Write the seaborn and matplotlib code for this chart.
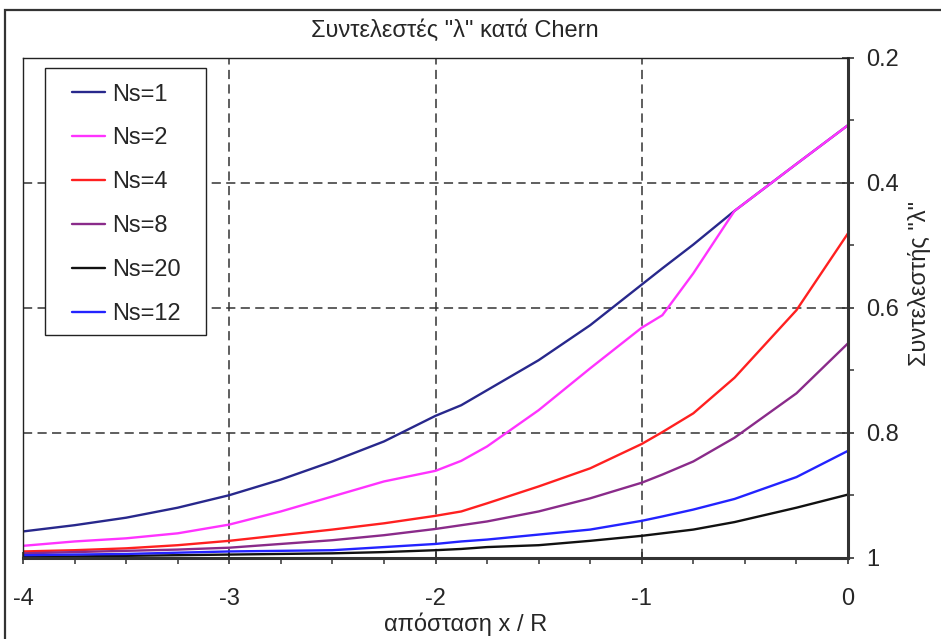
import matplotlib
matplotlib.use("Agg")
import matplotlib.pyplot as plt
from matplotlib.patches import Rectangle
from matplotlib.ticker import MultipleLocator, FuncFormatter
import seaborn as sns
import pandas as pd

# Distance from the edge (x / R) and Chern coefficients per number of storeys
x_dist = [-4, -3.75, -3.5, -3.25, -3, -2.75, -2.5, -2.25, -2, -1.875,
          -1.75, -1.5, -1.25, -1, -0.9, -0.75, -0.55, -0.25, 0]

ns1 = [0.958, 0.948, 0.936, 0.920, 0.900, 0.875, 0.846, 0.814, 0.773, 0.756,
       0.732, 0.684, 0.628, 0.563, 0.537, 0.499, 0.445, 0.370, 0.308]
ns2 = [0.981, 0.974, 0.969, 0.961, 0.947, 0.926, 0.902, 0.878, 0.861, 0.845,
       0.822, 0.764, 0.697, 0.632, 0.612, 0.545, 0.445, 0.370, 0.308]
ns4 = [0.990, 0.988, 0.985, 0.980, 0.973, 0.964, 0.955, 0.945, 0.933, 0.926,
       0.913, 0.886, 0.857, 0.818, 0.799, 0.769, 0.712, 0.604, 0.481]
ns8 = [0.993, 0.991, 0.989, 0.987, 0.984, 0.978, 0.972, 0.964, 0.954, 0.948,
       0.942, 0.926, 0.905, 0.880, 0.867, 0.846, 0.808, 0.737, 0.657]
ns20 = [0.998, 0.998, 0.997, 0.996, 0.995, 0.994, 0.993, 0.991, 0.988, 0.986,
        0.983, 0.980, 0.973, 0.965, 0.961, 0.955, 0.943, 0.920, 0.899]
ns12 = [0.996, 0.995, 0.994, 0.992, 0.990, 0.989, 0.988, 0.983, 0.978, 0.974,
        0.971, 0.963, 0.955, 0.941, 0.934, 0.923, 0.906, 0.871, 0.829]

series_names = ["Ns=1", "Ns=2", "Ns=4", "Ns=8", "Ns=20", "Ns=12"]
series_values = [ns1, ns2, ns4, ns8, ns20, ns12]
series_colors = ["#28288C", "#FF33FF", "#FF2020", "#8A2B8A", "#111111", "#2323FF"]

title_text = 'Συντελεστές "λ" κατά Chern'
xlabel_text = "απόσταση x / R"
ylabel_text = 'Συντελεστής "λ"'

rows = []
for name, vals in zip(series_names, series_values):
    for xv, yv in zip(x_dist, vals):
        rows.append({"x": xv, "lam": yv, "series": name})
df = pd.DataFrame(rows)

sns.set_style("white")
plt.rcParams["font.family"] = ["Liberation Sans", "DejaVu Sans"]
plt.rcParams["axes.unicode_minus"] = False

W, H = 941, 639
fig = plt.figure(figsize=(W / 100, H / 100), dpi=100)
ax_l, ax_r, ax_t, ax_b = 23, 848, 57.7, 557.7
ax = fig.add_axes([ax_l / W, 1 - ax_b / H, (ax_r - ax_l) / W, (ax_b - ax_t) / H])

sns.lineplot(data=df, x="x", y="lam", hue="series", hue_order=series_names,
             palette=dict(zip(series_names, series_colors)), estimator=None,
             linewidth=1.7, ax=ax, legend=True)

ax.set_xlim(-4, 0)
ax.set_ylim(1.0, 0.2)

ax.xaxis.set_major_locator(MultipleLocator(1))
ax.xaxis.set_minor_locator(MultipleLocator(0.25))
ax.yaxis.set_major_locator(MultipleLocator(0.2))
ax.yaxis.set_minor_locator(MultipleLocator(0.1))
ax.yaxis.set_major_formatter(FuncFormatter(lambda v, p: f"{v:g}"))
ax.xaxis.set_major_formatter(FuncFormatter(lambda v, p: f"{v:g}"))

ax.yaxis.tick_right()
ax.yaxis.set_label_position("right")
ax.tick_params(axis="x", which="major", direction="inout", length=8, width=1.2,
               pad=18, labelsize=17, color="#333333", bottom=True, top=False)
ax.tick_params(axis="x", which="minor", direction="out", length=4, width=1.1,
               color="#333333", bottom=True, top=False)
ax.tick_params(axis="y", which="major", direction="inout", length=8, width=1.2,
               pad=9, labelsize=17, color="#333333", right=True, left=False)
ax.tick_params(axis="y", which="minor", direction="out", length=4, width=1.1,
               color="#333333", right=True, left=False)

ax.grid(True, which="major", color="#333333", linewidth=1.1,
        linestyle=(0, (6, 3.5)))
ax.set_axisbelow(True)

for side in ("bottom", "right"):
    ax.spines[side].set_linewidth(2.2)
    ax.spines[side].set_color("#333333")
for side in ("left", "top"):
    ax.spines[side].set_linewidth(1.0)
    ax.spines[side].set_color("#222222")

ax.set_xlabel(xlabel_text, fontsize=17, va="center")
ax.xaxis.set_label_coords((466 - ax_l) / (ax_r - ax_l), (ax_b - 624) / (ax_b - ax_t))
ax.set_ylabel(ylabel_text, fontsize=17, rotation=90, va="center", ha="center")
ax.yaxis.set_label_coords((920 - ax_l) / (ax_r - ax_l), (ax_b - 283) / (ax_b - ax_t))

# Legend: white framed box with the entries inside
box = Rectangle(((45 - ax_l) / (ax_r - ax_l), (ax_b - 335) / (ax_b - ax_t)),
                (206 - 45) / (ax_r - ax_l), (335 - 68) / (ax_b - ax_t),
                transform=ax.transAxes, facecolor="white", edgecolor="#222222",
                linewidth=1.0, zorder=5)
ax.add_patch(box)
handles, labels = ax.get_legend_handles_labels()
leg = ax.legend(handles, labels, loc="upper left",
                bbox_to_anchor=((71.7 - ax_l) / (ax_r - ax_l), (ax_b - 83.5) / (ax_b - ax_t)),
                frameon=False, fontsize=17, borderpad=0, borderaxespad=0,
                handlelength=1.4, handletextpad=0.3, labelspacing=0.93)
leg.set_zorder(6)
for line in leg.get_lines():
    line.set_linewidth(1.7)

fig.text(455 / W, 1 - 31 / H, title_text, fontsize=17, ha="center", va="center")

# Outer chart border
fig.patches.append(Rectangle((5 / W, -0.2), 2.0, 1.2 - 10 / H, transform=fig.transFigure,
                             fill=False, edgecolor="#333333", linewidth=1.6))

fig.savefig("out.png", dpi=100)
